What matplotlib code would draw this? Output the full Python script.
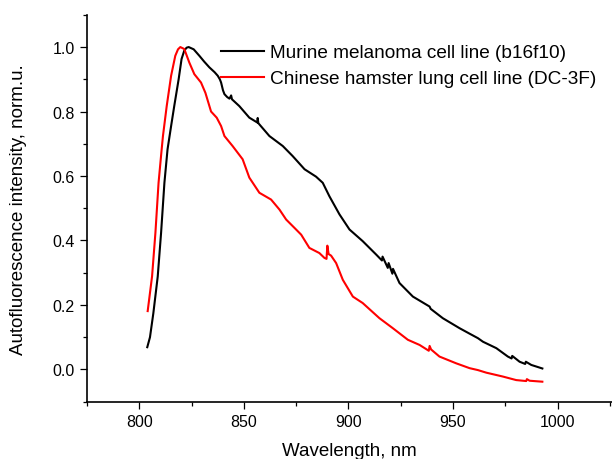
import matplotlib
matplotlib.use("Agg")
import matplotlib.pyplot as plt
from matplotlib.ticker import MultipleLocator

plt.rcParams['font.family'] = ['Liberation Sans', 'DejaVu Sans']

# Murine melanoma cell line (b16f10)
b16_wl = [803.8, 805.1, 806.7, 808.8, 810.4, 812.0, 813.5, 815.2, 816.7, 818.8,
          820.2, 821.5, 822.6, 823.6, 826.0, 828.7, 831.0, 833.5, 836.0, 837.5,
          838.5, 839.1, 840.0, 840.7, 842.0, 843.1, 843.9, 844.3, 847.8, 852.6,
          856.4, 856.6, 856.9, 862.2, 868.6, 873.3, 879.0, 884.5, 887.7, 890.9,
          895.7, 900.5, 906.8, 913.3, 916.0, 916.3, 918.8, 919.2, 921.0, 921.3,
          924.4, 930.8, 938.8, 939.3, 945.1, 953.1, 957.9, 961.9, 964.3, 970.7,
          976.2, 978.0, 978.3, 981.8, 984.5, 984.8, 987.4, 992.7]
b16_int = [0.069, 0.100, 0.174, 0.288, 0.423, 0.579, 0.683, 0.755, 0.817, 0.900,
           0.963, 0.989, 0.998, 1.000, 0.993, 0.973, 0.955, 0.937, 0.922, 0.911,
           0.900, 0.890, 0.866, 0.854, 0.845, 0.840, 0.850, 0.838, 0.817, 0.781,
           0.766, 0.780, 0.764, 0.724, 0.693, 0.662, 0.621, 0.598, 0.579, 0.537,
           0.481, 0.434, 0.398, 0.356, 0.338, 0.350, 0.315, 0.330, 0.297, 0.312,
           0.268, 0.226, 0.195, 0.188, 0.159, 0.128, 0.111, 0.097, 0.086, 0.066,
           0.040, 0.034, 0.042, 0.024, 0.017, 0.024, 0.014, 0.003]

# Chinese hamster lung cell line (DC-3F)
dc3f_wl = [804.0, 806.1, 807.7, 809.2, 810.5, 811.3, 813.1, 815.2, 817.2, 818.5,
           819.6, 821.5, 823.9, 826.3, 829.5, 831.6, 834.3, 837.0, 839.1, 840.7,
           844.6, 849.4, 852.6, 857.4, 863.0, 867.0, 870.2, 874.2, 877.4, 881.3,
           886.1, 888.5, 889.5, 889.9, 890.5, 891.7, 894.1, 897.3, 902.1, 906.8,
           914.8, 921.2, 928.4, 934.0, 938.4, 938.8, 939.5, 943.5, 951.5, 957.9,
           961.9, 965.9, 973.8, 980.2, 985.0, 985.3, 986.6, 992.7]
dc3f_int = [0.181, 0.289, 0.424, 0.579, 0.670, 0.724, 0.817, 0.911, 0.973, 0.993,
            1.000, 0.994, 0.952, 0.916, 0.890, 0.858, 0.800, 0.781, 0.755, 0.724,
            0.693, 0.652, 0.595, 0.548, 0.527, 0.496, 0.465, 0.439, 0.418, 0.377,
            0.361, 0.346, 0.343, 0.384, 0.358, 0.353, 0.330, 0.278, 0.226, 0.206,
            0.159, 0.128, 0.092, 0.076, 0.058, 0.073, 0.062, 0.040, 0.019, 0.004,
            -0.002, -0.010, -0.022, -0.033, -0.036, -0.030, -0.035, -0.038]

fig = plt.figure(figsize=(6.12, 4.6), dpi=100)
ax = fig.add_axes([0.1422, 0.1246, 0.8578, 0.841])

ax.plot(b16_wl, b16_int, color='black', lw=1.5, label='Murine melanoma cell line (b16f10)')
ax.plot(dc3f_wl, dc3f_int, color='#ff0000', lw=1.5, label='Chinese hamster lung cell line (DC-3F)')

ax.set_xlim(775, 1026)
ax.set_ylim(-0.1, 1.1)
ax.xaxis.set_major_locator(MultipleLocator(50))
ax.xaxis.set_minor_locator(MultipleLocator(25))
ax.yaxis.set_major_locator(MultipleLocator(0.2))
ax.yaxis.set_minor_locator(MultipleLocator(0.1))
ax.set_yticks([0.0, 0.2, 0.4, 0.6, 0.8, 1.0])
ax.set_yticklabels(['0.0', '0.2', '0.4', '0.6', '0.8', '1.0'])

for side in ['top', 'right']:
    ax.spines[side].set_visible(False)
for side in ['left', 'bottom']:
    ax.spines[side].set_linewidth(1.2)

ax.tick_params(which='major', direction='out', length=5, width=0.9, labelsize=11.5, pad=4)
ax.tick_params(which='minor', direction='out', length=2.8, width=0.9)

ax.set_xlabel('Wavelength, nm', fontsize=13.5, labelpad=9)
ax.set_ylabel('Autofluorescence intensity, norm.u.', fontsize=13.5, labelpad=18)

ax.legend(loc='upper left', bbox_to_anchor=(221 / 612, 1 - 45 / 460),
          bbox_transform=fig.transFigure, frameon=False, fontsize=13.7,
          handlelength=2.25, handletextpad=0.3, labelspacing=0.45, borderpad=0,
          borderaxespad=0)

fig.savefig('out.png', dpi=100)
